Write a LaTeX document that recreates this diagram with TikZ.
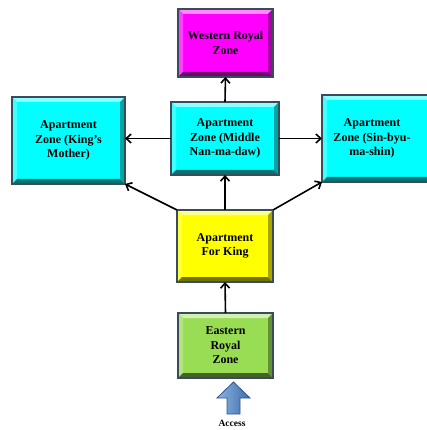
\documentclass[tikz,border=0pt]{standalone}
\usepackage{fontspec}
\setmainfont{Liberation Serif}
\usetikzlibrary{arrows.meta,calc}
\definecolor{outl}{HTML}{3A4B5C}
\definecolor{mag}{HTML}{FF00FF}
\definecolor{cyn}{HTML}{00FFFF}
\definecolor{yel}{HTML}{FFFF00}
\definecolor{grn}{HTML}{99DD55}
\definecolor{accL}{HTML}{8DB3E2}
\definecolor{accD}{HTML}{3C6EA8}
\definecolor{accO}{HTML}{2F5597}
\newcommand\bevelbox[3][0pt]{%
 \fill[#3!45!white] (#2.north west) -- (#2.north east) -- ([xshift=-5pt,yshift=-5pt]#2.north east) -- ([xshift=5pt,yshift=-5pt]#2.north west) -- cycle;
 \fill[#3!75!white] (#2.north west) -- ([xshift=5pt,yshift=-5pt]#2.north west) -- ([xshift=5pt,yshift=5pt]#2.south west) -- (#2.south west) -- cycle;
 \fill[#3!45!black] (#2.south west) -- ([xshift=5pt,yshift=5pt]#2.south west) -- ([xshift=-5pt,yshift=5pt]#2.south east) -- (#2.south east) -- cycle;
 \fill[#3!65!black] (#2.north east) -- ([xshift=-5pt,yshift=-5pt]#2.north east) -- ([xshift=-5pt,yshift=5pt]#2.south east) -- (#2.south east) -- cycle;
 \draw[outl,line width=1.3pt] (#2.north west) rectangle (#2.south east);
 \node[txt,xshift=#1] at (#2) {\csname boxtext#2\endcsname};
}
\tikzset{
 zone/.style={inner sep=0pt,outer sep=0pt,align=center},
 txt/.style={align=center,font=\bfseries\fontsize{12}{14.5}\selectfont},
 conn/.style={line width=1.6pt,-{Straight Barb[length=5pt,width=9pt,line width=1.6pt]}},
}
\begin{document}
\begin{tikzpicture}[x=1pt,y=-1pt]
\useasboundingbox (0,0) rectangle (426,430);
\fill[white] (0,0) rectangle (426,430);
\def\boxtextwest{Western Royal\\Zone}
\def\boxtextmother{Apartment\\Zone (King’s\\Mother)}
\def\boxtextmid{Apartment\\Zone (Middle\\Nan-ma-daw)}
\def\boxtextsin{Apartment\\Zone (Sin-byu-\\ma-shin)}
\def\boxtextking{Apartment\\For King}
\def\boxtexteast{Eastern\\Royal\\Zone}
\node[zone,fill=mag,minimum width=95pt,minimum height=68pt] (west) at (225.5,43) {};
\node[zone,fill=cyn,minimum width=113pt,minimum height=87pt] (mother) at (68.5,140.5) {};
\node[zone,fill=cyn,minimum width=108pt,minimum height=73pt] (mid) at (225,138.5) {};
\node[zone,fill=cyn,minimum width=116pt,minimum height=87pt] (sin) at (380,138.5) {};
\node[zone,fill=yel,minimum width=96pt,minimum height=72pt] (king) at (225,246) {};
\node[zone,fill=grn,minimum width=95pt,minimum height=65pt] (east) at (225.5,345.5) {};
\bevelbox{west}{mag}
\bevelbox{mother}{cyn}
\bevelbox{mid}{cyn}
\bevelbox[-8pt]{sin}{cyn}
\bevelbox{king}{yel}
\bevelbox{east}{grn}
\draw[conn] (east.north) -- (king.south);
\draw[conn] (king.north) -- (mid.south);
\draw[conn] (mid.north) -- (west.south);
\draw[conn] (mid.west) -- (mid.west -| mother.east);
\draw[conn] (mid.east) -- (mid.east -| sin.west);
\draw[conn] (king.north west) -- (mother.south east);
\draw[conn] (king.north east) -- (sin.south west);
\coordinate (acctip) at (233.5,382);
\draw[accO,line width=0.8pt,left color=accL,right color=accD]
 (acctip) -- (250,398) -- (240,398) -- (240,414) -- (227,414) -- (227,398) -- (217,398) -- cycle;
\node[font=\bfseries\fontsize{9.5}{10}\selectfont] (access) at (232,423) {Access};
\end{tikzpicture}
\end{document}
